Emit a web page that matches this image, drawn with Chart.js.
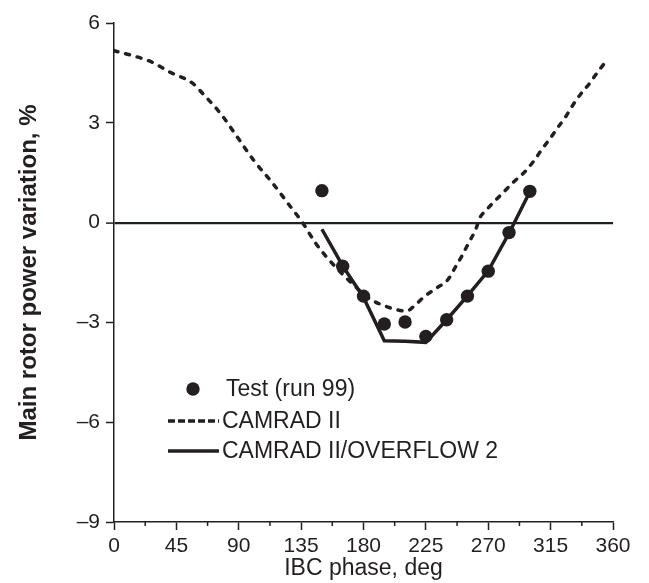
<!DOCTYPE html>
<html>
<head>
<meta charset="utf-8">
<script src="https://cdn.jsdelivr.net/npm/chart.js@4.4.1/dist/chart.umd.min.js"></script>
<style>
  html, body { margin: 0; padding: 0; background: #fff; }
  #wrap { width: 649px; height: 583px; }
</style>
</head>
<body>
<div id="wrap"><canvas id="chart"></canvas></div>
<script>
const ink = '#231f20'
const family = "'Liberation Sans', Arial, Helvetica, sans-serif"

// Test (run 99)
const testPhase = [150, 165, 180, 195, 210, 225, 240, 255, 270, 285, 300]
const testPower = [0.96, -1.31, -2.21, -3.05, -2.99, -3.42, -2.92, -2.21, -1.46, -0.3, 0.94]

// CAMRAD II
const camPhase = [0, 27, 40, 57, 64, 77, 89, 101, 114, 126, 136, 146, 156, 170, 185, 199, 211, 217, 224, 233, 241, 246, 251, 256, 261, 264, 268, 274, 281, 288, 296, 303, 309, 315, 320, 326, 331, 337, 343, 349, 356]
const camPower = [5.17, 4.83, 4.53, 4.18, 3.88, 3.27, 2.57, 1.86, 1.21, 0.55, 0, -0.65, -1.16, -1.76, -2.3, -2.56, -2.66, -2.49, -2.22, -1.96, -1.71, -1.36, -1.0, -0.6, -0.2, 0.15, 0.35, 0.62, 0.91, 1.21, 1.51, 1.86, 2.22, 2.55, 2.85, 3.19, 3.53, 3.88, 4.18, 4.53, 4.9]

// CAMRAD II/OVERFLOW 2
const ovfPhase = [150, 165, 180, 195, 210, 225, 240, 255, 270, 285, 300]
const ovfPower = [-0.2, -1.3, -2.25, -3.55, -3.57, -3.6, -2.92, -2.2, -1.45, -0.32, 0.93]

const xMajorTicks = [0, 45, 90, 135, 180, 225, 270, 315, 360]
const xMinorTicks = [22.5, 67.5, 112.5, 157.5, 202.5, 247.5, 292.5, 337.5]
const yTicks = [-9, -6, -3, 0, 3, 6]

const legendItems = [
  { label: 'Test (run 99)', kind: 'dot' },
  { label: 'CAMRAD II', kind: 'dash' },
  { label: 'CAMRAD II/OVERFLOW 2', kind: 'solid' }
]

const toPoints = (xs, ys) => xs.map((x, i) => ({ x, y: ys[i] }))

// short unlabelled ticks between the 45 deg ones
const minorTicks = {
  id: 'minorTicks',
  afterDraw(chart) {
    const { ctx, scales } = chart
    const x = scales.x
    ctx.save()
    ctx.strokeStyle = ink
    ctx.lineWidth = 1.5
    xMinorTicks.forEach(v => {
      const px = x.getPixelForValue(v)
      ctx.beginPath()
      ctx.moveTo(px, x.top)
      ctx.lineTo(px, x.top + 4)
      ctx.stroke()
    })
    ctx.restore()
  }
}

// legend sits inside the plot, lower left
const inlineLegend = {
  id: 'inlineLegend',
  afterDraw(chart) {
    const { ctx } = chart
    const rows = [389, 421, 451]
    ctx.save()
    ctx.fillStyle = ink
    ctx.strokeStyle = ink
    ctx.font = '23px ' + family
    ctx.textBaseline = 'middle'
    legendItems.forEach((item, i) => {
      const y = rows[i]
      if (item.kind === 'dot') {
        ctx.beginPath()
        ctx.arc(193, y, 6.7, 0, Math.PI * 2)
        ctx.fill()
        ctx.fillText(item.label, 226, y + 1)
      } else {
        ctx.lineWidth = 3.5
        ctx.setLineDash(item.kind === 'dash' ? [7, 3] : [])
        ctx.beginPath()
        ctx.moveTo(168, y)
        ctx.lineTo(219, y)
        ctx.stroke()
        ctx.setLineDash([])
        ctx.fillText(item.label, 222, y + 1)
      }
    })
    ctx.restore()
  }
}

new Chart(document.getElementById('chart'), {
  type: 'line',
  data: {
    datasets: [
      {
        label: 'Test (run 99)',
        data: toPoints(testPhase, testPower),
        showLine: false,
        pointRadius: 6.7,
        pointBackgroundColor: ink,
        pointBorderWidth: 0,
        order: 0
      },
      {
        label: 'CAMRAD II',
        data: toPoints(camPhase, camPower),
        borderColor: ink,
        borderWidth: 3.5,
        borderDash: [4, 8],
        borderCapStyle: 'round',
        cubicInterpolationMode: 'monotone',
        pointRadius: 0,
        order: 2
      },
      {
        label: 'CAMRAD II/OVERFLOW 2',
        data: toPoints(ovfPhase, ovfPower),
        borderColor: ink,
        borderWidth: 3.5,
        pointRadius: 0,
        tension: 0,
        order: 1
      }
    ]
  },
  options: {
    responsive: true,
    maintainAspectRatio: false,
    animation: false,
    layout: { padding: { top: 23, right: 36, left: 0, bottom: 0 } },
    plugins: {
      legend: { display: false },
      tooltip: { enabled: false }
    },
    scales: {
      x: {
        type: 'linear',
        min: 0,
        max: 360,
        afterBuildTicks: scale => {
          scale.ticks = [...xMajorTicks, ...xMinorTicks].sort((a, b) => a - b).map(v => ({ value: v }))
        },
        afterFit: scale => { scale.height = 61 },
        ticks: {
          autoSkip: false,
          maxRotation: 0,
          padding: 4,
          color: ink,
          font: { family, size: 21 },
          callback: v => xMajorTicks.includes(v) ? String(v) : ''
        },
        grid: {
          drawOnChartArea: false,
          tickLength: 8,
          tickWidth: 1.5,
          tickColor: ctx => ctx.tick && xMajorTicks.includes(ctx.tick.value) ? ink : 'rgba(0,0,0,0)'
        },
        border: { color: ink, width: 1.5 },
        title: {
          display: true,
          text: 'IBC phase, deg',
          color: ink,
          font: { family, size: 23 },
          padding: { top: 0, bottom: 1 }
        }
      },
      y: {
        type: 'linear',
        min: -9,
        max: 6,
        afterBuildTicks: scale => {
          scale.ticks = yTicks.map(v => ({ value: v }))
        },
        afterFit: scale => { scale.width = 114 },
        ticks: {
          padding: 6,
          color: ink,
          font: { family, size: 21 },
          callback: v => v < 0 ? '\u2013' + Math.abs(v) : String(v)
        },
        grid: {
          drawOnChartArea: true,
          tickLength: 8,
          tickWidth: 1.5,
          tickColor: ink,
          color: ctx => ctx.tick && ctx.tick.value === 0 ? ink : 'rgba(0,0,0,0)',
          lineWidth: ctx => ctx.tick && ctx.tick.value === 0 ? 2.2 : 1
        },
        border: { color: ink, width: 1.5 },
        title: {
          display: true,
          text: 'Main rotor power variation, %',
          color: ink,
          font: { family, size: 24, weight: 'bold' },
          padding: { top: 15, bottom: 0 }
        }
      }
    }
  },
  plugins: [minorTicks, inlineLegend]
})
</script>
</body>
</html>
